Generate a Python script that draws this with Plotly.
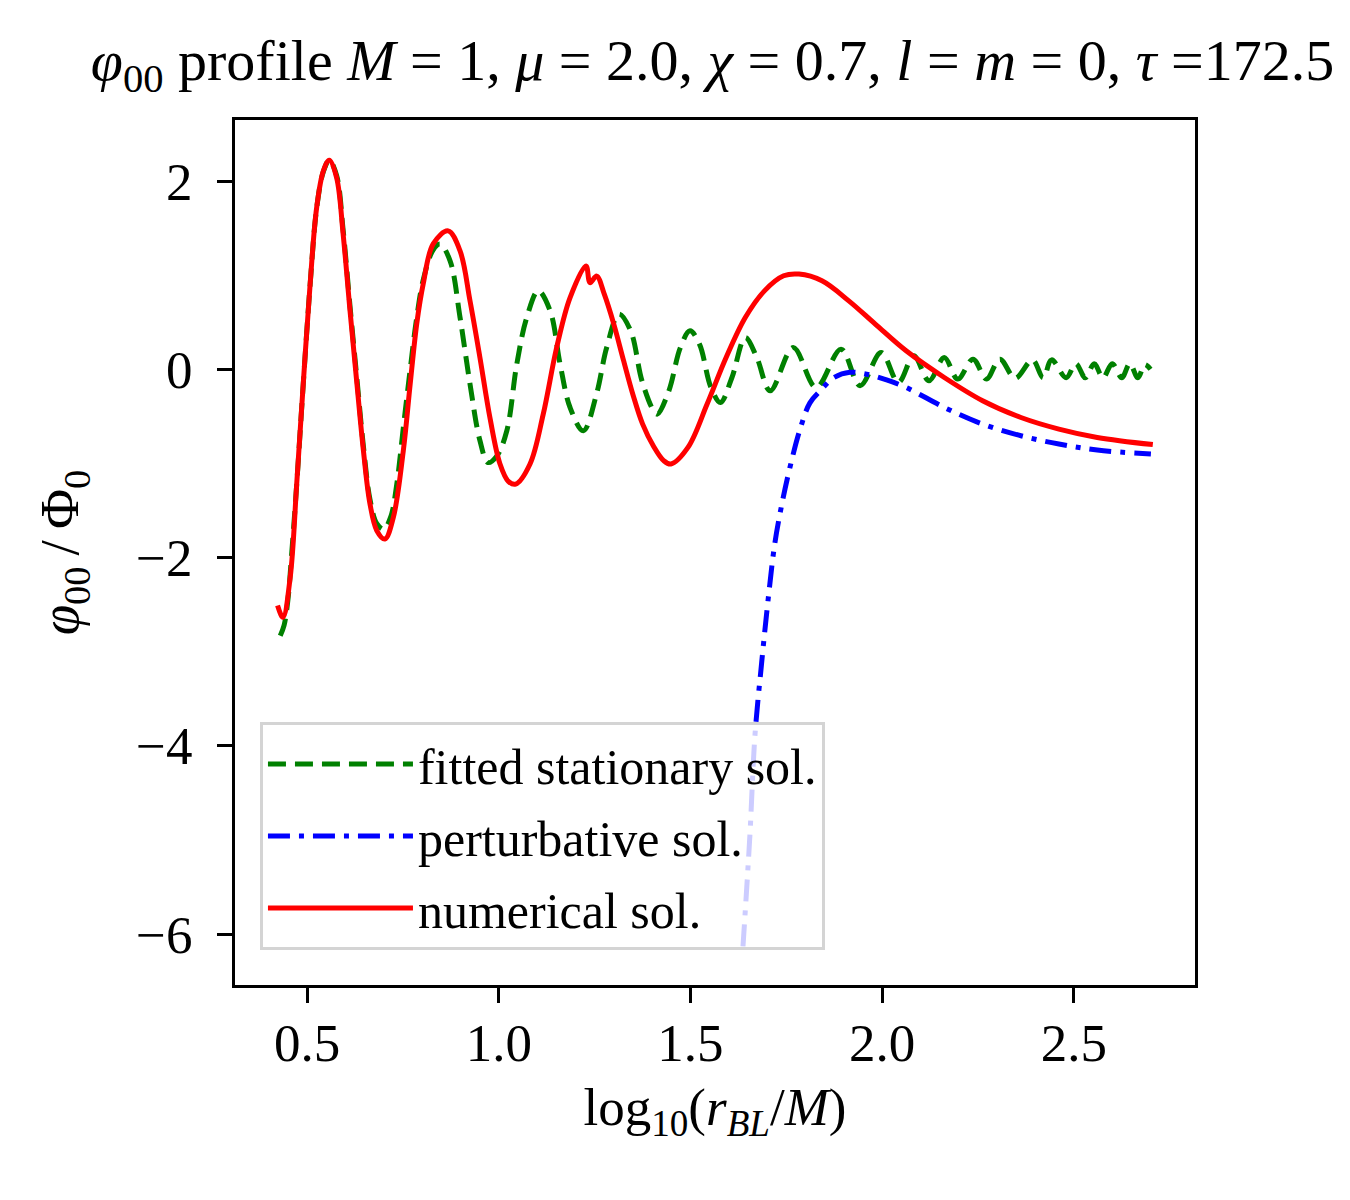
import plotly.graph_objects as go

# fitted stationary solution (green, dashed)
fit_x = [0.430, 0.440, 0.450, 0.460, 0.473, 0.490, 0.508, 0.525, 0.5425, 0.558,
         0.577, 0.594, 0.612, 0.630, 0.647, 0.664, 0.682, 0.700, 0.718, 0.734,
         0.751, 0.769, 0.786, 0.803, 0.829, 0.847, 0.873, 0.899, 0.925, 0.951,
         0.972, 0.995, 1.021, 1.047, 1.073, 1.103, 1.134, 1.160, 1.186, 1.2205,
         1.255, 1.2815, 1.3136, 1.344, 1.3735, 1.4038, 1.4137, 1.4437, 1.4737, 1.4987,
         1.5235, 1.5535, 1.5782, 1.6082, 1.6432, 1.6731, 1.7081, 1.7681, 1.8278, 1.8927,
         1.9425, 1.9975, 2.0424, 2.0823, 2.1222, 2.162, 2.197, 2.237, 2.272, 2.307,
         2.347, 2.392, 2.420, 2.442, 2.480, 2.505, 2.530, 2.553, 2.576, 2.600,
         2.625, 2.646, 2.667, 2.685, 2.700]
fit_y = [-2.83, -2.72, -2.45, -1.95, -1.22, -0.16, 0.90, 1.71, 2.10, 2.22,
         2.06, 1.48, 0.67, -0.10, -0.82, -1.38, -1.64, -1.70, -1.57, -1.22,
         -0.62, 0.0, 0.55, 0.95, 1.27, 1.33, 1.152, 0.55, -0.157, -0.759,
         -0.99, -0.92, -0.653, 0.055, 0.55, 0.833, 0.621, 0.055, -0.406, -0.653,
         -0.263, 0.231, 0.586, 0.409, -0.122, -0.44, -0.476, -0.228, 0.231, 0.409,
         0.267, -0.193, -0.352, -0.087, 0.338, 0.125, -0.228, 0.231, -0.193, 0.214,
         -0.175, 0.178, -0.14, 0.143, -0.122, 0.125, -0.104, 0.108, -0.104, 0.108,
         -0.095, 0.10, -0.09, 0.10, -0.09, 0.06, -0.09, 0.06, -0.09, 0.06,
         -0.09, 0.06, -0.09, 0.05, 0.0]

# perturbative solution (blue, dash-dot)
pert_x = [1.637, 1.655, 1.668, 1.6856, 1.703, 1.720, 1.738, 1.759, 1.7855, 1.8116,
          1.842, 1.8724, 1.916, 1.9594, 2.0116, 2.0625, 2.162, 2.262, 2.362, 2.461,
          2.561, 2.701]
pert_y = [-6.13, -4.95, -3.90, -3.12, -2.43, -1.85, -1.44, -1.05, -0.641, -0.357,
          -0.214, -0.092, -0.032, -0.052, -0.113, -0.193, -0.405, -0.582, -0.706, -0.794,
          -0.858, -0.90]

# numerical solution (red, solid)
num_x = [0.423, 0.437, 0.456, 0.473, 0.490, 0.508, 0.525, 0.5425, 0.558, 0.577,
         0.594, 0.612, 0.630, 0.647, 0.664, 0.682, 0.703, 0.725, 0.751, 0.769,
         0.786, 0.803, 0.829, 0.868, 0.899, 0.925, 0.951, 0.977, 1.003, 1.025,
         1.044, 1.0815, 1.116, 1.151, 1.186, 1.2275, 1.238, 1.2554, 1.275, 1.300,
         1.325, 1.350, 1.375, 1.404, 1.430, 1.449, 1.4935, 1.5435, 1.593, 1.643,
         1.693, 1.743, 1.783, 1.843, 1.913, 1.982, 2.0625, 2.162, 2.262, 2.362,
         2.461, 2.561, 2.706]
num_y = [-2.51, -2.635, -2.21, -1.215, -0.154, 0.908, 1.718, 2.107, 2.221, 2.036,
         1.438, 0.621, -0.154, -0.865, -1.428, -1.714, -1.803, -1.573, -0.865, -0.154,
         0.483, 0.908, 1.332, 1.47, 1.258, 0.727, 0.122, -0.515, -1.003, -1.19,
         -1.22, -1.006, -0.476, 0.231, 0.762, 1.098, 0.92, 0.99, 0.80, 0.48,
         0.10, -0.27, -0.58, -0.82, -0.97, -1.006, -0.83, -0.369, 0.125, 0.55,
         0.833, 0.993, 1.011, 0.94, 0.727, 0.48, 0.196, -0.087, -0.334, -0.512,
         -0.635, -0.724, -0.80]

x_ticks = [0.5, 1.0, 1.5, 2.0, 2.5]
y_ticks = [-6, -4, -2, 0, 2]

serif = "Liberation Serif"

fig = go.Figure()
fig.add_trace(go.Scatter(
    x=fit_x, y=fit_y, mode="lines", name="fitted stationary sol.", legendgroup="a",
    line=dict(color="green", width=5, dash="18px,9px", shape="spline", smoothing=1.0),
))
fig.add_trace(go.Scatter(
    x=pert_x, y=pert_y, mode="lines", name="perturbative sol.", legendgroup="b",
    line=dict(color="blue", width=5, dash="22px,9px,5px,9px", shape="spline", smoothing=1.0),
))
fig.add_trace(go.Scatter(
    x=num_x, y=num_y, mode="lines", name="numerical sol.", legendgroup="c",
    line=dict(color="red", width=5, shape="spline", smoothing=1.0),
))

axis_common = dict(
    showline=True, mirror=True, linecolor="black", linewidth=3,
    ticks="outside", ticklen=15, tickwidth=3, tickcolor="black",
    showgrid=False, zeroline=False,
    tickfont=dict(family=serif, size=53, color="black"),
)

# page body adds an 8px margin, so the figure is sized 8px smaller
fig.update_layout(
    width=1342, height=1192,
    paper_bgcolor="white", plot_bgcolor="white",
    margin=dict(l=227, r=155, t=112, b=215),
    title=dict(
        text="<i>φ</i><sub>00</sub> profile <i>M</i> = 1, <i>μ</i> = 2.0, <i>χ</i> = 0.7, "
             "<i>l</i> = <i>m</i> = 0, <i>τ</i> =172.5",
        x=0.525, xanchor="center", y=1 - 52 / 1192, yanchor="middle", yref="container",
        font=dict(family=serif, size=58, color="black"),
    ),
    xaxis=dict(
        range=[0.312, 2.816], tickvals=x_ticks, ticktext=[f"{v:.1f}" for v in x_ticks],
        ticklabelstandoff=-6,
        title=dict(text="log<sub>10</sub>(<i>r</i><sub><i>BL</i></sub>/<i>M</i>)",
                   font=dict(family=serif, size=53, color="black"), standoff=18),
        **axis_common,
    ),
    yaxis=dict(
        range=[-6.54, 2.648], tickvals=y_ticks, ticklabelstandoff=14,
        title=dict(text="<i>φ</i><sub>00</sub>\u2009/\u2009Φ<sub>0</sub>",
                   font=dict(family=serif, size=55, color="black"), standoff=40),
        **axis_common,
    ),
    legend=dict(
        x=0.026, y=0.304, xanchor="left", yanchor="top",
        bgcolor="rgba(255,255,255,0.8)", bordercolor="#d4d4d4", borderwidth=3,
        font=dict(family=serif, size=50, color="black"),
        itemwidth=145, traceorder="grouped", tracegroupgap=4,
    ),
    showlegend=True,
)

fig.write_html("out.html")
